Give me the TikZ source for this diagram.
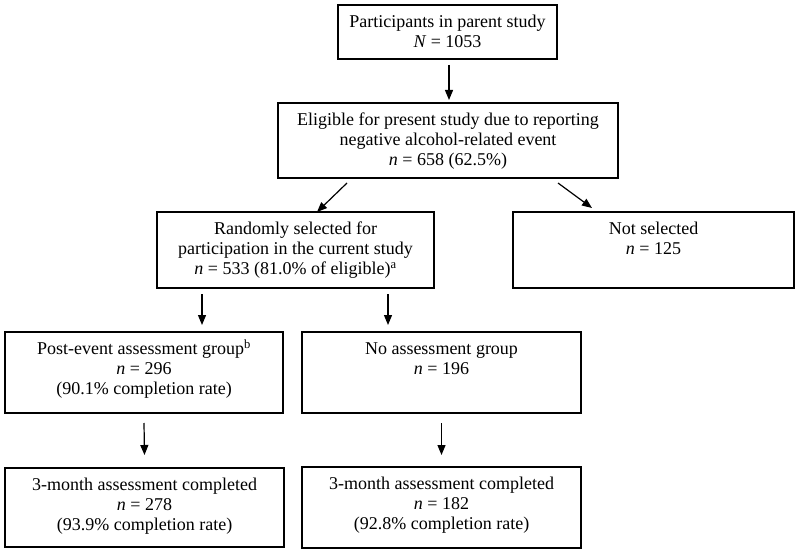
\documentclass[tikz,border=0pt]{standalone}
\usepackage{fontspec}
\setmainfont{Liberation Serif}
\usetikzlibrary{arrows.meta,calc}
\newcommand{\bxt}[3]{\parbox[c][#2][t]{#1}{\centering\rule{0pt}{22.5pt}#3\par}}
\tikzset{
  box/.style={draw, line width=1.2pt, inner sep=0pt, outer sep=0pt, anchor=north west,
    font=\fontsize{18pt}{20pt}\selectfont},
  arr/.style={line width=1.2pt, -{Triangle[length=10pt,width=8pt]}}
}
\begin{document}
\begin{tikzpicture}[x=1pt,y=1pt]
\useasboundingbox[fill=white] (0,0) rectangle (800,-553);
\node[box] (b1) at (338,-5) {\bxt{219pt}{54pt}{Participants in parent study\\\textit{N} = 1053}};
\node[box] (b2) at (278,-103) {\bxt{340pt}{75pt}{Eligible for present study due to reporting\\negative alcohol-related event\\\textit{n} = 658 (62.5\%)}};
\node[box] (b3) at (157,-212) {\bxt{277pt}{76pt}{Randomly selected for\\participation in the current study\\\textit{n} = 533 (81.0\% of eligible)\textsuperscript{a}}};
\node[box] (b4) at (513,-212) {\bxt{281pt}{76pt}{Not selected\\\textit{n} = 125}};
\node[box] (b5) at (5,-332) {\bxt{278pt}{81pt}{Post-event assessment group\textsuperscript{b}\\\textit{n} = 296\\(90.1\% completion rate)}};
\node[box] (b6) at (302,-332) {\bxt{279pt}{81pt}{No assessment group\\\textit{n} = 196}};
\node[box] (b7) at (5,-468) {\bxt{279pt}{79pt}{3-month assessment completed\\\textit{n} = 278\\(93.9\% completion rate)}};
\node[box] (b8) at (302,-467) {\bxt{279pt}{81pt}{3-month assessment completed\\\textit{n} = 182\\(92.8\% completion rate)}};
% connectors
\draw[arr] ($(b1.south)+(1.5,-6)$) -- ($(b2.north)+(1,3)$);
\draw[arr] ($(b2.south west)+(69,-5)$) -- ($(b3.north)+(21.5,0)$);
\draw[arr] ($(b2.south west)+(280,-5)$) -- ($(b4.north west)+(79,4)$);
\draw[arr] ($(b3.south west)+(45,-6)$) -- ($(b5.north west)+(197,7)$);
\draw[arr] ($(b3.south west)+(231,-6)$) -- ($(b6.north west)+(86,7)$);
\draw[arr] ($(b5.south)+(0,-10)$) -- ($(b7.north)+(0,13)$);
\draw[arr] ($(b6.south)+(0,-10)$) -- ($(b8.north)+(0,12)$);
\end{tikzpicture}
\end{document}
